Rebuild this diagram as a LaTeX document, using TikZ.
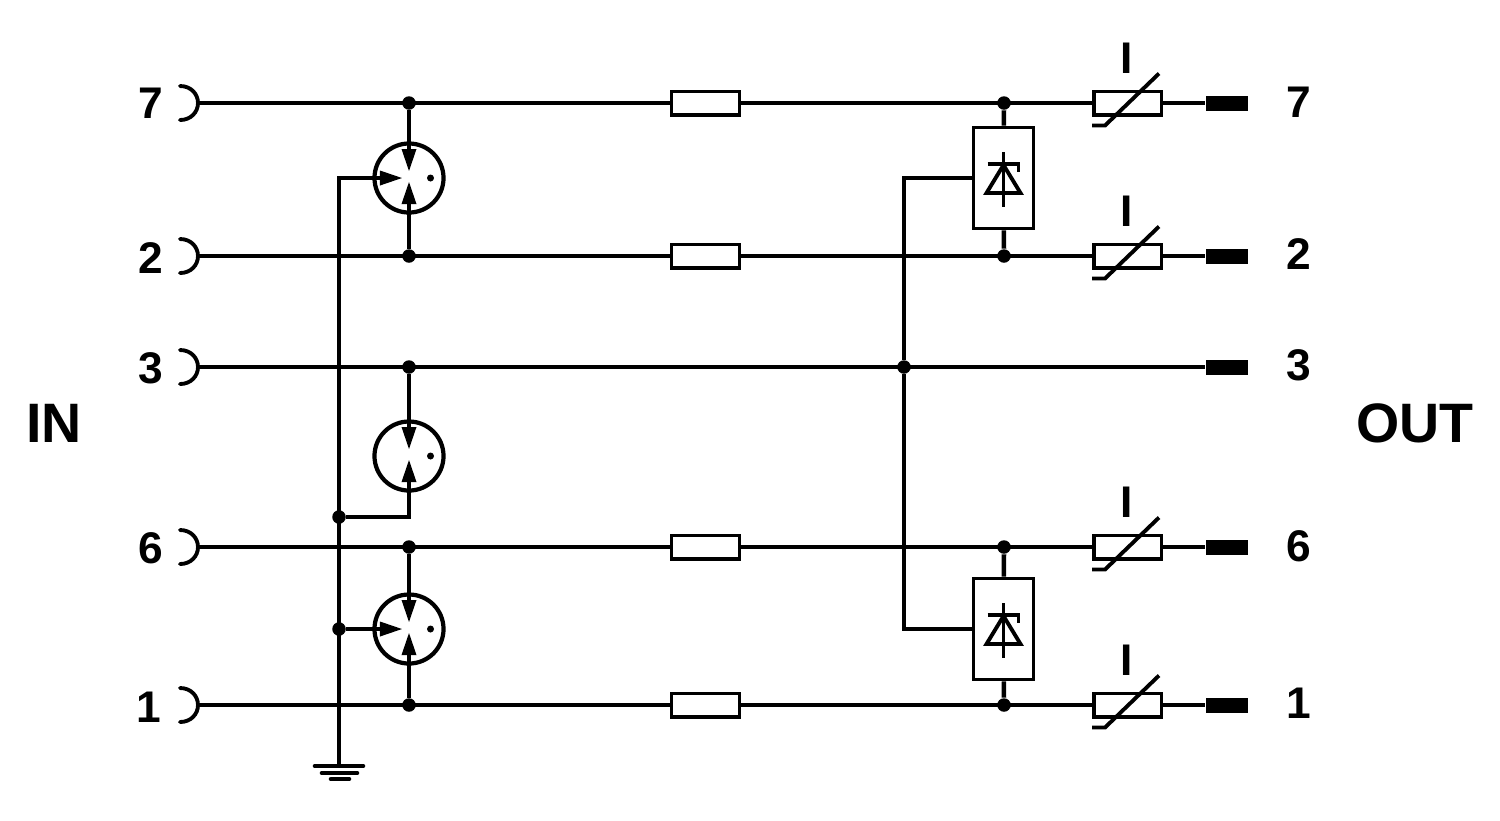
\documentclass[tikz,border=0pt]{standalone}
\usepackage{fontspec}
\setmainfont{Liberation Sans}
\usetikzlibrary{arrows.meta}
\tikzset{
  wire/.style={line width=1.3pt},
  fine/.style={line width=1.1pt},
  tipwire/.style={wire, -{Triangle[length=.23cm,width=.135cm]}},
  dot/.style={circle, fill=black, inner sep=0pt, minimum size=.135cm},
  fuse/.style={draw, line width=1pt, fill=white, inner sep=0pt, minimum width=.675cm, minimum height=.235cm},
  tube/.style={circle, draw, line width=1.2pt, fill=white, inner sep=0pt, minimum size=.69cm},
  surge/.style={draw, fine, fill=white, inner sep=0pt, minimum width=.60cm, minimum height=1.01cm},
  pin/.style={fill=black, inner sep=0pt, minimum width=.42cm, minimum height=.15cm},
  num/.style={inner sep=0pt, font=\fontsize{12.6}{14}\selectfont\bfseries},
  side/.style={inner sep=0pt, font=\fontsize{15.8}{18}\selectfont\bfseries}
}
\begin{document}
\begin{tikzpicture}[x=.01cm, y=-.01cm]
  \useasboundingbox (0,0) rectangle (1500,820);
  % plugs on the left, pins on the right
  \foreach \n/\y/\ly/\lx/\ry in {7/103/103/151/102, 2/256/258/151/254, 3/367/368/151/365, 6/547/548/151/546, 1/705/707/149/703} {
    \draw[fine, line cap=round] (180,\y-17) .. controls (191,\y-17) and (198,\y-9) .. (198,\y)
      .. controls (198,\y+9) and (191,\y+17) .. (180,\y+17);
    \coordinate (plug\n) at (198,\y);
    \node[pin] (pin\n) at (1227,\y) {};
    \node[num] (left\n) at (\lx,\ly) {\n};
    \node[num] (right\n) at (1298.5,\ry) {\n};
  }
  \node[side] (in) at (54,423) {IN};
  \node[side] (out) at (1415,423) {OUT};
  % junctions
  \node[dot] (a7) at (409,103) {};
  \node[dot] (a2) at (409,256) {};
  \node[dot] (a3) at (409,367) {};
  \node[dot] (a6) at (409,547) {};
  \node[dot] (a1) at (409,705) {};
  \node[dot] (b7) at (1004,103) {};
  \node[dot] (b2) at (1004,256) {};
  \node[dot] (b6) at (1004,547) {};
  \node[dot] (b1) at (1004,705) {};
  \node[dot] (mid3) at (904,367) {};
  \node[dot] (bus1) at (339,517) {};
  \node[dot] (bus2) at (339,629) {};
  \coordinate (gnd) at (339,766);
  % fuses and varistors
  \foreach \n/\y in {7/103, 2/256, 6/547, 1/705} {
    \node[fuse] (fuse\n) at (705.5,\y) {};
    \node[fuse] (var\n) at (1127.5,\y) {};
    \draw[fine] (var\n.center) ++(31.5,-29.5) -- ++(-54,52) -- ++(-13,0);
    \node[num] (i\n) at (1127,\y-45) {I};
  }
  % wires
  \draw[wire] (plug7) -- (fuse7) -- (var7) -- (pin7);
  \draw[wire] (plug2) -- (fuse2) -- (var2) -- (pin2);
  \draw[wire] (plug3) -- (pin3);
  \draw[wire] (plug6) -- (fuse6) -- (var6) -- (pin6);
  \draw[wire] (plug1) -- (fuse1) -- (var1) -- (pin1);
  % gas tubes
  \node[tube] (tubeA) at (409,178) {};
  \node[tube] (tubeB) at (409,456) {};
  \node[tube] (tubeC) at (409,629) {};
  \foreach \t/\u in {tubeA/a7, tubeB/a3, tubeC/a6} {
    \coordinate (\t up) at ([yshift=.06cm]\t.center);
    \coordinate (\t low) at ([yshift=-.03cm]\t.center);
    \coordinate (\t in) at ([xshift=-.06cm]\t.center);
    \node[circle, fill=black, inner sep=0pt, minimum size=.07cm] (\t dot) at ([xshift=.215cm]\t.center) {};
    \draw[tipwire] (\u) -- (\t up);
  }
  \draw[tipwire] (a2) -- (tubeAlow);
  \draw[tipwire] (bus1) -| (tubeBlow);
  \draw[tipwire] (a1) -- (tubeClow);
  \draw[tipwire] (gnd) |- (tubeAin);
  \draw[tipwire] (bus2) -- (tubeCin);
  % surge boxes
  \node[surge] (surgeA) at (1003.5,178) {};
  \node[surge] (surgeB) at (1003.5,629) {};
  \draw[wire] (b7) -- (surgeA);
  \draw[wire] (b2) -- (surgeA);
  \draw[wire] (b6) -- (surgeB);
  \draw[wire] (b1) -- (surgeB);
  \draw[wire] (surgeA) -| (mid3);
  \draw[wire] (surgeB) -| (mid3);
  \foreach \n in {surgeA, surgeB} {
    \draw[fine] (\n.center) ++(0,-26) -- ++(0,55);
    \draw[fine] (\n.center) ++(0,-13) -- ++(-17,28) -- ++(34,0) -- cycle;
    \draw[fine] (\n.center) ++(-16,-14) -- ++(31,0) -- ++(0,8);
  }
  % earth
  \draw[wire, line cap=round] (315,766) -- (363,766);
  \draw[wire, line cap=round] (322,773) -- (357,773);
  \draw[wire, line cap=round] (331,779) -- (349,779);
\end{tikzpicture}
\end{document}
